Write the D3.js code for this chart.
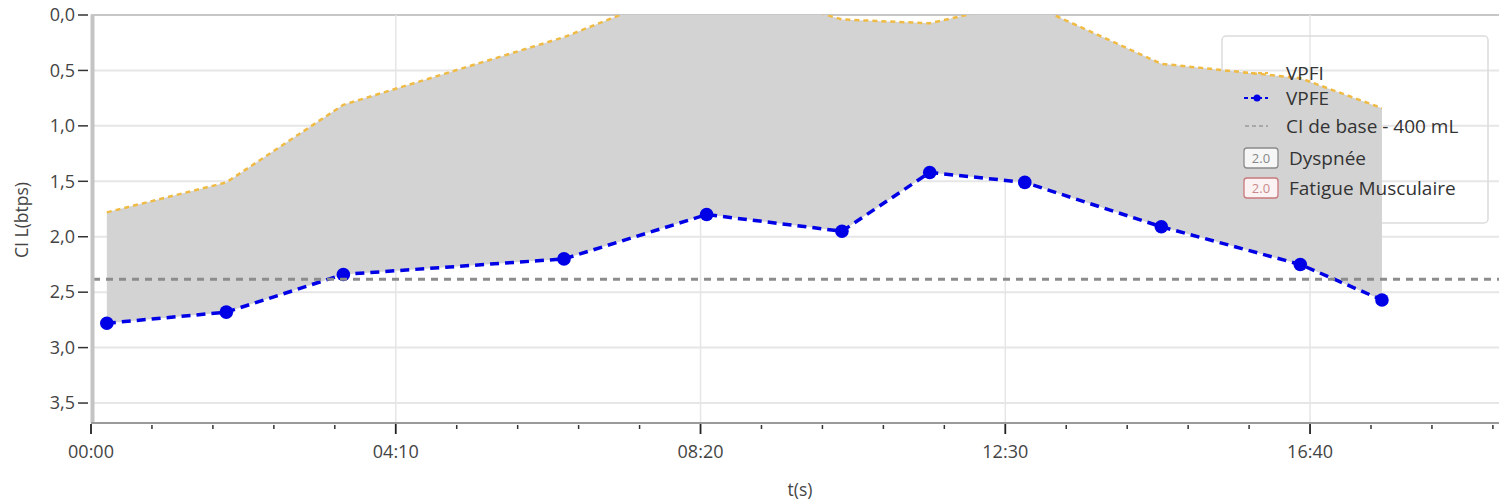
<!DOCTYPE html>
<html><head><meta charset="utf-8">
<script src="https://cdn.jsdelivr.net/npm/d3@7"></script>
<style>
html,body{margin:0;padding:0;background:#fff;}
svg{display:block;font-family:"Open Sans",sans-serif;}
</style></head>
<body>
<svg id="chart" width="1499" height="503"></svg>
<script>
// ---- data ----
const times = [13, 111, 207, 388, 505, 616, 688, 766, 878, 992, 1059];      // seconds
const vpfe  = [2.78, 2.68, 2.34, 2.20, 1.80, 1.95, 1.42, 1.51, 1.91, 2.25, 2.57];
const vpfi  = [1.78, 1.51, 0.81, 0.20, -0.31, 0.04, 0.075, -0.12, 0.44, 0.57, 0.84];
const baseline = 2.383;
const yTicks = [0, 0.5, 1.0, 1.5, 2.0, 2.5, 3.0, 3.5];
const xMajorTicks = [0, 250, 500, 750, 1000];
const xMinorStep = 50;
const legendItems = ["VPFI", "VPFE", "CI de base - 400 mL", "Dyspnée", "Fatigue Musculaire"];
const scoreLabel = "2.0";

// ---- layout ----
const svg = d3.select("#chart");
const pL = 91, pR = 1499, pT = 15, pB = 423;
const x = d3.scaleLinear().domain([0, 1155]).range([pL, pR]);
const y = d3.scaleLinear().domain([0, 3.68]).range([pT, pB]);

const fmtTime = s => { const m = Math.floor(s/60), r = s%60; return String(m).padStart(2,"0")+":"+String(r).padStart(2,"0"); };
const fmtY = v => d3.format(".1f")(v).replace(".", ",");

svg.append("defs").append("clipPath").attr("id","clip")
  .append("rect").attr("x", pL).attr("y", pT).attr("width", pR-pL).attr("height", pB-pT);

// gridlines
const grid = svg.append("g");
grid.selectAll("line.h").data(yTicks).join("line")
  .attr("x1", pL).attr("x2", pR)
  .attr("y1", d => y(d)).attr("y2", d => y(d))
  .attr("stroke", d => d === 0 ? "#b4b4b4" : "#e6e6e6").attr("stroke-width", d => d===0?1.5:2);
grid.selectAll("line.v").data(xMajorTicks.filter(d => d > 0)).join("line")
  .attr("x1", d => x(d)).attr("x2", d => x(d))
  .attr("y1", pT).attr("y2", pB)
  .attr("stroke", "#e6e6e6").attr("stroke-width", 1.5);

// legend box (behind area)
const lg = {x: 1222, y: 36, w: 266, h: 187};
svg.append("rect").attr("x", lg.x).attr("y", lg.y).attr("width", lg.w).attr("height", lg.h)
  .attr("rx", 4).attr("fill", "none").attr("stroke", "#dcdcdc").attr("stroke-width", 1.5);

const plot = svg.append("g").attr("clip-path", "url(#clip)");
const idx = d3.range(times.length);

// area between VPFI and VPFE
plot.append("path").datum(idx)
  .attr("d", d3.area().x(i => x(times[i])).y0(i => y(vpfe[i])).y1(i => y(vpfi[i])))
  .attr("fill", "#d3d3d3");

// baseline
svg.append("line").attr("x1", pL+2).attr("x2", pR)
  .attr("y1", y(baseline)).attr("y2", y(baseline))
  .attr("stroke", "#8c8c8c").attr("stroke-width", 3).attr("stroke-dasharray", "7,6");

// VPFI line
plot.append("path").datum(idx)
  .attr("d", d3.line().x(i => x(times[i])).y(i => y(vpfi[i])))
  .attr("fill", "none").attr("stroke", "#efbb45").attr("stroke-width", 2.5).attr("stroke-dasharray", "5,4");

// VPFE line + dots
plot.append("path").datum(idx)
  .attr("d", d3.line().x(i => x(times[i])).y(i => y(vpfe[i])))
  .attr("fill", "none").attr("stroke", "#0000e6").attr("stroke-width", 3.5).attr("stroke-dasharray", "9,6");
plot.selectAll("circle").data(idx).join("circle")
  .attr("cx", i => x(times[i])).attr("cy", i => y(vpfe[i])).attr("r", 6.8).attr("fill", "#0000e6");

// y axis
svg.append("line").attr("x1", pL+1.5).attr("x2", pL+1.5).attr("y1", pT).attr("y2", pB)
  .attr("stroke", "#c4c4c4").attr("stroke-width", 4);
const yg = svg.append("g");
yg.selectAll("line").data(yTicks).join("line")
  .attr("x1", 78).attr("x2", 88).attr("y1", d => y(d)).attr("y2", d => y(d))
  .attr("stroke", "#333").attr("stroke-width", 1.5);
yg.selectAll("text").data(yTicks).join("text")
  .attr("x", 75).attr("y", d => y(d)).attr("dy", "0.35em").attr("text-anchor", "end")
  .attr("font-size", 18).attr("fill", "#444").text(fmtY);
svg.append("text").attr("transform", "translate(22,220) rotate(-90)")
  .attr("dy", "0.35em").attr("text-anchor", "middle").attr("font-size", 17.5).attr("fill", "#444").text("CI L(btps)");

// x axis
svg.append("line").attr("x1", pL).attr("x2", pR).attr("y1", pB).attr("y2", pB)
  .attr("stroke", "#9a9a9a").attr("stroke-width", 2);
const minorTicks = d3.range(0, 1151, xMinorStep).filter(d => !xMajorTicks.includes(d));
const xg = svg.append("g");
xg.selectAll("line.minor").data(minorTicks).join("line")
  .attr("x1", d => x(d)).attr("x2", d => x(d)).attr("y1", pB+2).attr("y2", pB+6)
  .attr("stroke", "#333").attr("stroke-width", 1.5);
xg.selectAll("line.major").data(xMajorTicks).join("line")
  .attr("x1", d => x(d)).attr("x2", d => x(d)).attr("y1", pB+1).attr("y2", pB+11)
  .attr("stroke", "#222").attr("stroke-width", 1.8);
xg.selectAll("text").data(xMajorTicks).join("text")
  .attr("x", d => x(d)).attr("y", 452).attr("dy", "0.35em").attr("text-anchor", "middle")
  .attr("font-size", 18).attr("fill", "#444").text(fmtTime);
svg.append("text").attr("x", 800).attr("y", 490).attr("dy", "0.35em").attr("text-anchor", "middle")
  .attr("font-size", 17.5).attr("fill", "#444").text("t(s)");

// legend items
const rowsY = [73, 98, 126, 158, 188];
const L = svg.append("g").attr("font-size", 19).attr("fill", "#333");
L.append("line").attr("x1", 1244).attr("x2", 1268).attr("y1", rowsY[0]).attr("y2", rowsY[0])
  .attr("stroke", "#efbb45").attr("stroke-width", 2).attr("stroke-dasharray", "4,3");
L.append("line").attr("x1", 1244).attr("x2", 1268).attr("y1", rowsY[1]).attr("y2", rowsY[1])
  .attr("stroke", "#0000e6").attr("stroke-width", 2).attr("stroke-dasharray", "4,3");
L.append("circle").attr("cx", 1257).attr("cy", rowsY[1]).attr("r", 3.5).attr("fill", "#0000e6");
L.append("line").attr("x1", 1245).attr("x2", 1268).attr("y1", rowsY[2]).attr("y2", rowsY[2])
  .attr("stroke", "#9a9a9a").attr("stroke-width", 1.5).attr("stroke-dasharray", "4,3");
const boxColors = [["#8a8a8a", "#888"], ["#c9787c", "#c98a8c"]];
[3, 4].forEach((r, k) => {
  L.append("rect").attr("x", 1244).attr("y", rowsY[r]-10).attr("width", 34).attr("height", 20)
    .attr("rx", 3).attr("fill", k === 0 ? "#f6f6f6" : "#fbf3f3").attr("stroke", boxColors[k][0]).attr("stroke-width", 1.3);
  L.append("text").attr("x", 1261).attr("y", rowsY[r]).attr("dy", "0.35em").attr("text-anchor", "middle")
    .attr("font-size", 13).attr("fill", boxColors[k][1]).text(scoreLabel);
});
L.selectAll("text.lab").data(legendItems).join("text").attr("class", "lab")
  .attr("x", (d, i) => i < 3 ? 1286 : 1289).attr("y", (d, i) => rowsY[i]).attr("dy", "0.35em")
  .text(d => d);
</script>
</body></html>
